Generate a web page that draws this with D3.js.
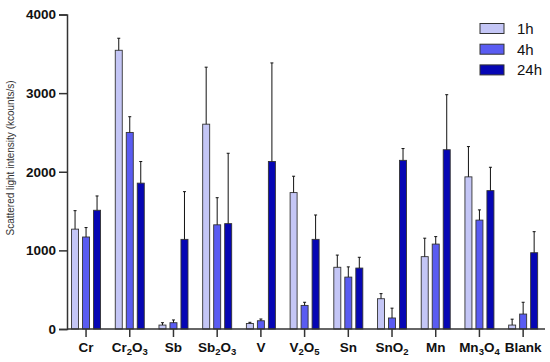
<!DOCTYPE html>
<html>
<head>
<meta charset="utf-8">
<script src="https://cdn.jsdelivr.net/npm/d3@7"></script>
<style>
  body { margin: 0; background: #fff; }
  svg { display: block; font-family: "Liberation Sans", Arial, sans-serif; }
</style>
</head>
<body>
<div id="chart"></div>
<script>
// Scattered light intensity per material, 1h / 4h / 24h

const categories = ["Cr", "Cr2O3", "Sb", "Sb2O3", "V", "V2O5", "Sn", "SnO2", "Mn", "Mn3O4", "Blank"];
const series = ["1h", "4h", "24h"];
const yTicks = [0, 1000, 2000, 3000, 4000];

// mean values
const values1h  = [1270, 3545, 50, 2605, 70, 1735, 785, 385, 920, 1935, 50];
const values4h  = [1170, 2500, 80, 1325, 105, 300, 660, 140, 1080, 1385, 190];
const values24h = [1510, 1855, 1140, 1340, 2130, 1140, 775, 2145, 2280, 1760, 970];

// upper end of error bars
const err1h  = [1505, 3698, 80, 3330, 85, 1943, 940, 450, 1155, 2320, 125];
const err4h  = [1290, 2700, 115, 1670, 127, 340, 790, 265, 1175, 1515, 340];
const err24h = [1692, 2130, 1747, 2235, 3384, 1450, 912, 2295, 2980, 2057, 1238];

const colors = { "1h": "#c4c6f6", "4h": "#5a5cf2", "24h": "#0606b4" };

const rows = [];
categories.forEach((c, i) => {
    rows.push({ cat: c, s: "1h", v: values1h[i], e: err1h[i] });
    rows.push({ cat: c, s: "4h", v: values4h[i], e: err4h[i] });
    rows.push({ cat: c, s: "24h", v: values24h[i], e: err24h[i] });
});

const width = 550, height = 362;
const svg = d3.select("#chart").append("svg")
    .attr("width", width)
    .attr("height", height);

const x = d3.scaleBand()
    .domain(categories)
    .range([64.2, 545]);

const groupWidth = 29;
const xs = d3.scaleBand()
    .domain(series)
    .range([-groupWidth / 2, groupWidth / 2])
    .paddingInner(4 / 11);

const y = d3.scaleLinear()
    .domain([0, 4000])
    .range([329, 14.5]);

const cx = c => x(c) + x.bandwidth() / 2;

// bars
svg.append("g").selectAll("rect")
    .data(rows)
    .join("rect")
    .attr("x", d => cx(d.cat) + xs(d.s))
    .attr("y", d => y(d.v))
    .attr("width", xs.bandwidth())
    .attr("height", d => y(0) - y(d.v))
    .attr("fill", d => colors[d.s])
    .attr("stroke", "#333")
    .attr("stroke-width", 0.9);

// error bars
const eb = svg.append("g").attr("stroke", "#111").attr("stroke-width", 1);
eb.selectAll("line.v")
    .data(rows)
    .join("line")
    .attr("class", "v")
    .attr("x1", d => cx(d.cat) + xs(d.s) + xs.bandwidth() / 2)
    .attr("x2", d => cx(d.cat) + xs(d.s) + xs.bandwidth() / 2)
    .attr("y1", d => y(d.v))
    .attr("y2", d => y(d.e));
eb.selectAll("line.cap")
    .data(rows)
    .join("line")
    .attr("class", "cap")
    .attr("x1", d => cx(d.cat) + xs(d.s) + xs.bandwidth() / 2 - 1.5)
    .attr("x2", d => cx(d.cat) + xs(d.s) + xs.bandwidth() / 2 + 1.5)
    .attr("y1", d => y(d.e))
    .attr("y2", d => y(d.e));

// y axis
const yAxis = svg.append("g")
    .attr("transform", "translate(67,0)")
    .call(d3.axisLeft(y).tickValues(yTicks).tickFormat(d3.format("d")).tickSize(8).tickPadding(3));
yAxis.select(".domain").attr("stroke", "#333").attr("stroke-width", 1.5);
yAxis.selectAll(".tick line").attr("stroke", "#333").attr("stroke-width", 1.5);
yAxis.selectAll(".tick text")
    .attr("font-size", 13.5)
    .attr("font-weight", "bold")
    .attr("fill", "#111")
    .attr("font-family", "Liberation Sans, Arial, sans-serif");

// x axis
const xAxis = svg.append("g")
    .attr("transform", `translate(0,${y(0)})`)
    .call(d3.axisBottom(x).tickSize(8).tickFormat(""));
xAxis.select(".domain")
    .attr("d", `M67,0H545`)
    .attr("stroke", "#333").attr("stroke-width", 1.5);
xAxis.selectAll(".tick line").attr("stroke", "#333").attr("stroke-width", 1.5);

// x labels with subscripts
const labels = svg.append("g")
    .attr("font-size", 13.5)
    .attr("font-weight", "bold")
    .attr("fill", "#111")
    .attr("text-anchor", "middle");
categories.forEach(c => {
    const t = labels.append("text")
        .attr("x", cx(c))
        .attr("y", 352);
    const parts = c.match(/[A-Za-z]+|\d+/g);
    parts.forEach(p => {
        if (/^\d+$/.test(p)) {
            t.append("tspan").attr("font-size", 9.5).attr("dy", 3).text(p);
        } else {
            const ts = t.append("tspan").text(p);
            if (t.selectAll("tspan").size() > 1) ts.attr("dy", -3);
        }
    });
});

// y axis title
svg.append("text")
    .attr("transform", "translate(14,158) rotate(-90)")
    .attr("text-anchor", "middle")
    .attr("font-size", 10)
    .attr("fill", "#333")
    .text("Scattered light intensity (kcounts/s)");

// legend
const legend = svg.append("g");
series.forEach((s, i) => {
    const ly = 28.5 + i * 20.7;
    legend.append("rect")
        .attr("x", 480).attr("y", ly - 5)
        .attr("width", 24).attr("height", 10)
        .attr("fill", colors[s])
        .attr("stroke", "#333").attr("stroke-width", 1);
    legend.append("text")
        .attr("x", 517).attr("y", ly + 5.5)
        .attr("font-size", 15)
        .attr("fill", "#111")
        .text(s);
});
</script>
</body>
</html>
